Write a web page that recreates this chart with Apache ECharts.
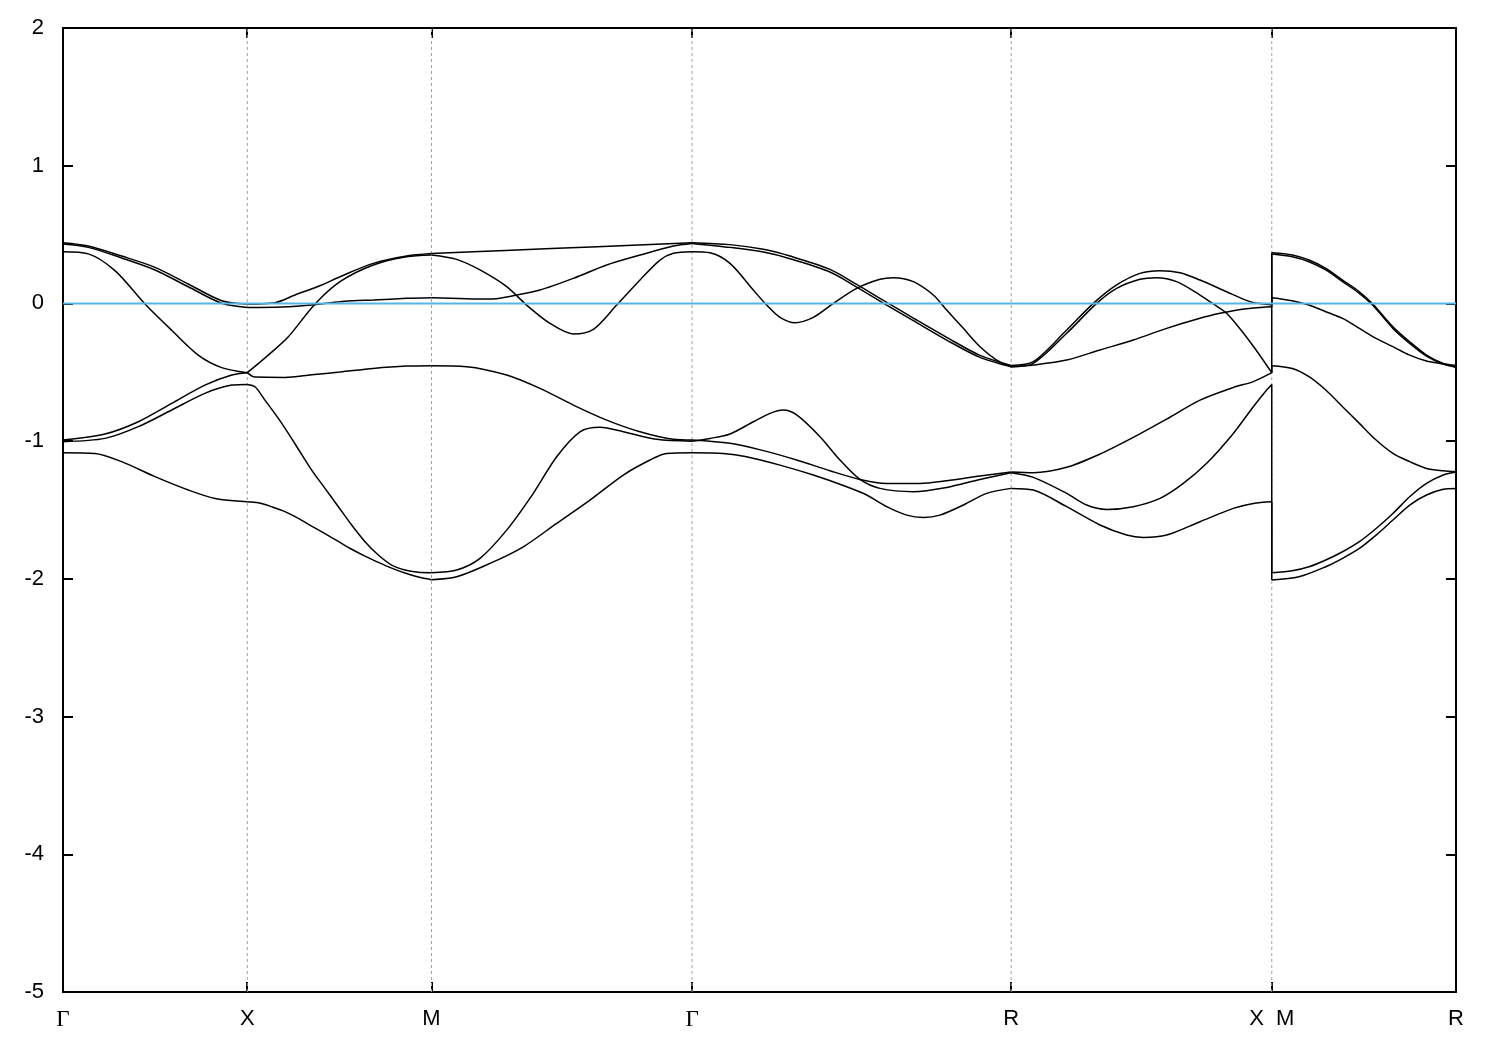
<!DOCTYPE html>
<html>
<head>
<meta charset="utf-8">
<script src="https://cdn.jsdelivr.net/npm/echarts@6/dist/echarts.min.js"></script>
<style>
  html, body { margin: 0; padding: 0; background: #ffffff; }
  #chart { width: 1500px; height: 1050px; }
</style>
</head>
<body>
<div id="chart"></div>
<script>
// High-symmetry points along the k-path
const kTicks = [0, 0.5, 1.0, 1.7071, 2.5731, 3.2802, 3.7802];
const kLabels = ['Γ', 'X', 'M', 'Γ', 'R', 'X  M', 'R'];
const energyTicks = [-5, -4, -3, -2, -1, 0, 1, 2];
const fermiEnergy = 0;

// Bands as [k, E] pairs
const band1 = [
  [0,0.441],[0.0688,0.417],[0.159,0.344],[0.2496,0.262],[0.340,0.141],[0.4306,0.020],[0.5,-0.004],
  [0.575,0.005],[0.6295,0.061],[0.702,0.134],[0.7517,0.194],[0.842,0.291],[0.9326,0.344],[1.0,0.362],
  [1.2,0.384],[1.45,0.412],[1.7071,0.441],
  [1.81,0.427],[1.9005,0.393],[1.9729,0.344],[2.0814,0.247],[2.1537,0.138],[2.2352,0.008],[2.3075,-0.106],[2.398,-0.246],[2.4885,-0.377],[2.5731,-0.450],
  [2.6332,-0.423],[2.7237,-0.193],[2.796,0.0],[2.8593,0.134],[2.9226,0.218],[2.9769,0.238],[3.0312,0.223],[3.0855,0.170],[3.1578,0.085],[3.2212,0.013],[3.2573,-0.004],[3.2802,-0.011],
  [3.2802,0.368],
  [3.3358,0.352],[3.3813,0.315],[3.4268,0.255],[3.4724,0.170],[3.5179,0.085],[3.5543,-0.004],[3.609,-0.169],[3.6545,-0.278],[3.7001,-0.375],[3.7456,-0.435],[3.7802,-0.450]
];
const band2 = [
  [0,0.431],[0.0688,0.407],[0.159,0.330],[0.2496,0.243],[0.340,0.121],[0.4306,0.001],[0.5,-0.029],
  [0.593,-0.026],[0.684,-0.009],[0.765,0.015],[0.842,0.025],[0.9326,0.037],[1.0,0.042],
  [1.1587,0.032],[1.2311,0.061],[1.2944,0.097],[1.3849,0.182],[1.4754,0.279],[1.5658,0.351],[1.6563,0.417],[1.7071,0.436],
  [1.81,0.407],[1.9005,0.373],[1.9729,0.325],[2.0814,0.228],[2.1537,0.119],[2.2352,-0.012],[2.3075,-0.125],[2.398,-0.266],[2.4885,-0.392],[2.5731,-0.460],
  [2.6332,-0.447],[2.7237,-0.411],[2.8141,-0.338],[2.9045,-0.266],[2.995,-0.181],[3.0855,-0.108],[3.1398,-0.072],[3.1759,-0.053],[3.2302,-0.033],[3.2802,-0.024],
  [3.2802,0.359],
  [3.3358,0.339],[3.3813,0.303],[3.4268,0.243],[3.4724,0.158],[3.5179,0.073],[3.5543,-0.013],[3.609,-0.181],[3.6545,-0.290],[3.7001,-0.382],[3.7456,-0.440],[3.7802,-0.460]
];
const band3 = [
  [0,0.376],[0.0688,0.360],[0.141,0.238],[0.2225,-0.004],[0.295,-0.195],[0.367,-0.375],[0.4306,-0.466],[0.5,-0.503],
  [0.557,-0.375],[0.6115,-0.242],[0.684,-0.004],[0.7517,0.158],[0.842,0.279],[0.9326,0.339],[1.0,0.352],
  [1.0683,0.320],[1.1316,0.243],[1.204,0.122],[1.2582,-0.012],[1.3216,-0.145],[1.3849,-0.222],[1.4392,-0.188],[1.5025,-0.012],[1.5658,0.170],[1.62,0.315],[1.6563,0.364],[1.7071,0.376],
  [1.7557,0.368],[1.81,0.291],[1.8734,0.097],[1.9096,-0.012],[1.9457,-0.101],[1.9864,-0.140],[2.0362,-0.101],[2.0904,0.0],[2.1537,0.109],[2.2171,0.175],[2.2533,0.187],[2.3075,0.158],[2.3618,0.061],[2.398,-0.048],[2.4432,-0.181],[2.4885,-0.314],[2.5337,-0.411],[2.5731,-0.460],
  [2.6332,-0.435],[2.7237,-0.217],[2.805,0.0],[2.8593,0.109],[2.9226,0.175],[2.9678,0.187],[3.0221,0.158],[3.0855,0.061],[3.1217,-0.004],[3.1578,-0.072],[3.2212,-0.278],[3.2802,-0.503],
  [3.2802,0.042],
  [3.3358,0.020],[3.3813,-0.012],[3.4268,-0.060],[3.4724,-0.108],[3.5179,-0.181],[3.5634,-0.254],[3.609,-0.314],[3.6545,-0.375],[3.7001,-0.418],[3.7456,-0.440],[3.7802,-0.465]
];
const band4 = [
  [0,-0.992],[0.114,-0.948],[0.2044,-0.859],[0.295,-0.726],[0.385,-0.593],[0.458,-0.520],[0.5,-0.503],
  [0.521,-0.535],[0.6025,-0.537],[0.6748,-0.518],[0.7517,-0.498],[0.842,-0.472],[0.9326,-0.455],[1.0,-0.452],
  [1.0955,-0.459],[1.204,-0.520],[1.2944,-0.617],[1.3849,-0.738],[1.4754,-0.847],[1.5658,-0.932],[1.6563,-0.987],[1.7071,-0.992],
  [1.81,-1.016],[1.9005,-1.069],[1.991,-1.137],[2.0814,-1.215],[2.1628,-1.278],[2.2352,-1.307],[2.3256,-1.307],[2.398,-1.287],[2.4885,-1.253],[2.5731,-1.224],
  [2.6332,-1.229],[2.7237,-1.190],[2.8141,-1.094],[2.9045,-0.973],[2.995,-0.840],[3.0855,-0.702],[3.1759,-0.610],[3.2302,-0.568],[3.2802,-0.503],
  [3.2802,-0.452],
  [3.3358,-0.472],[3.3813,-0.532],[3.4268,-0.629],[3.4724,-0.750],[3.5179,-0.871],[3.5634,-0.992],[3.609,-1.089],[3.6545,-1.149],[3.7001,-1.198],[3.7456,-1.215],[3.7802,-1.222]
];
const band5 = [
  [0,-1.004],[0.114,-0.980],[0.2044,-0.895],[0.295,-0.774],[0.385,-0.653],[0.458,-0.593],[0.5,-0.588],
  [0.521,-0.605],[0.548,-0.702],[0.5844,-0.835],[0.6115,-0.944],[0.6431,-1.077],[0.6748,-1.210],[0.711,-1.343],[0.7472,-1.476],[0.7833,-1.609],[0.8195,-1.730],[0.8557,-1.827],[0.8919,-1.900],[0.928,-1.936],[0.9642,-1.952],[1.0,-1.955],
  [1.0683,-1.936],[1.1316,-1.851],[1.204,-1.646],[1.2763,-1.379],[1.3397,-1.113],[1.403,-0.932],[1.4573,-0.900],[1.5206,-0.932],[1.611,-0.987],[1.7071,-1.0],
  [1.7557,-0.980],[1.81,-0.948],[1.8734,-0.859],[1.9186,-0.798],[1.9548,-0.774],[1.991,-0.810],[2.0543,-0.968],[2.1085,-1.137],[2.1628,-1.278],[2.2171,-1.343],[2.3075,-1.367],[2.398,-1.336],[2.4885,-1.278],[2.5731,-1.229],
  [2.6332,-1.263],[2.7237,-1.379],[2.7779,-1.464],[2.8322,-1.496],[2.9045,-1.476],[2.9769,-1.416],[3.0402,-1.307],[3.1036,-1.161],[3.1759,-0.944],[3.2302,-0.750],[3.2664,-0.629],[3.2802,-0.588],
  [3.2802,-1.955],
  [3.3358,-1.941],[3.3813,-1.912],[3.4268,-1.863],[3.4724,-1.803],[3.5179,-1.730],[3.5634,-1.634],[3.609,-1.525],[3.6545,-1.404],[3.7001,-1.307],[3.7456,-1.246],[3.7802,-1.224]
];
const band6 = [
  [0,-1.084],[0.0868,-1.089],[0.159,-1.149],[0.2496,-1.258],[0.340,-1.355],[0.4125,-1.416],[0.5,-1.440],
  [0.530,-1.447],[0.5663,-1.476],[0.6025,-1.512],[0.6386,-1.561],[0.6748,-1.617],[0.711,-1.672],[0.7472,-1.728],[0.7833,-1.785],[0.8195,-1.835],[0.8557,-1.880],[0.8919,-1.922],[0.928,-1.958],[0.9642,-1.987],[1.0,-2.006],
  [1.0683,-1.985],[1.1587,-1.888],[1.2492,-1.767],[1.3397,-1.597],[1.4301,-1.428],[1.5206,-1.246],[1.593,-1.137],[1.638,-1.089],[1.7071,-1.084],
  [1.792,-1.089],[1.8553,-1.113],[1.9457,-1.174],[2.0362,-1.246],[2.1266,-1.331],[2.1809,-1.391],[2.2352,-1.476],[2.2895,-1.537],[2.3347,-1.554],[2.3799,-1.537],[2.4432,-1.464],[2.5065,-1.379],[2.5731,-1.343],
  [2.6332,-1.355],[2.7237,-1.476],[2.8141,-1.609],[2.8865,-1.682],[2.9317,-1.699],[2.995,-1.682],[3.0855,-1.585],[3.1759,-1.488],[3.2302,-1.452],[3.2802,-1.440],
  [3.2802,-2.009],
  [3.354,-1.985],[3.4268,-1.912],[3.4724,-1.851],[3.5179,-1.779],[3.5634,-1.682],[3.609,-1.573],[3.6545,-1.464],[3.7001,-1.391],[3.7456,-1.350],[3.7802,-1.343]
];
const bands = [band1, band2, band3, band4, band5, band6];

function isTick(k) { return kTicks.some(t => Math.abs(t - k) < 1e-9); }
function splitPieces(band) {
  const out = [];
  let cur = [band[0]];
  for (let i = 1; i < band.length; i++) {
    cur.push(band[i]);
    if (isTick(band[i][0])) { out.push(cur); cur = [band[i]]; }
  }
  if (cur.length > 1) out.push(cur);
  return out;
}

const series = [];
// dashed vertical guide lines at interior high-symmetry points
kTicks.slice(1, -1).forEach(k => {
  series.push({
    type: 'line', data: [[k, energyTicks[0]], [k, energyTicks[energyTicks.length - 1]]],
    symbol: 'none', silent: true, z: 1,
    lineStyle: { color: '#a0a0a0', width: 1, type: [3, 3] }
  });
});
bands.forEach(b => {
  splitPieces(b).forEach(p => {
    series.push({
      type: 'line', data: p, symbol: 'none', showSymbol: false, silent: true,
      smooth: p.length > 2 ? 0.3 : false, z: 2,
      lineStyle: { color: '#000000', width: 1.5 }
    });
  });
});
// Fermi level
series.push({
  type: 'line', data: [[kTicks[0], fermiEnergy], [kTicks[kTicks.length - 1], fermiEnergy]],
  symbol: 'none', silent: true, z: 3,
  lineStyle: { color: '#56B4E9', width: 2 }
});

const labelFont = 'Liberation Sans, Arial, sans-serif';
function xLabel(v) {
  let idx = kTicks.findIndex(t => Math.abs(t - v) < 1e-6);
  if (idx < 0) return '';
  const s = kLabels[idx];
  return s === 'Γ' ? '{g|Γ}' : s;
}

const axisLineStyle = { color: '#000', width: 2 };
const option = {
  backgroundColor: '#ffffff',
  animation: false,
  grid: { left: 63, right: 44, top: 28, bottom: 58, containLabel: false },
  xAxis: [
    {
      type: 'value', min: kTicks[0], max: kTicks[kTicks.length - 1], position: 'bottom',
      axisLine: { show: true, onZero: false, lineStyle: axisLineStyle },
      axisTick: { show: true, inside: true, length: 10, customValues: kTicks, lineStyle: axisLineStyle },
      axisLabel: {
        show: true, customValues: kTicks, formatter: xLabel, margin: 16,
        fontSize: 22, color: '#000', fontFamily: labelFont,
        showMinLabel: true, showMaxLabel: true,
        rich: { g: { fontFamily: 'Liberation Serif, DejaVu Serif, serif', fontSize: 23, color: '#000' } }
      },
      splitLine: { show: false }
    },
    {
      type: 'value', min: kTicks[0], max: kTicks[kTicks.length - 1], position: 'top',
      axisLine: { show: true, onZero: false, lineStyle: axisLineStyle },
      axisTick: { show: true, inside: true, length: 10, customValues: kTicks, lineStyle: axisLineStyle },
      axisLabel: { show: false },
      splitLine: { show: false }
    }
  ],
  yAxis: [
    {
      type: 'value', min: energyTicks[0], max: energyTicks[energyTicks.length - 1], interval: 1, position: 'left',
      axisLine: { show: true, onZero: false, lineStyle: axisLineStyle },
      axisTick: { show: true, inside: true, length: 10, lineStyle: axisLineStyle },
      axisLabel: { show: true, margin: 19, fontSize: 22, color: '#000', fontFamily: labelFont },
      splitLine: { show: false }
    },
    {
      type: 'value', min: energyTicks[0], max: energyTicks[energyTicks.length - 1], interval: 1, position: 'right',
      axisLine: { show: true, onZero: false, lineStyle: axisLineStyle },
      axisTick: { show: true, inside: true, length: 10, lineStyle: axisLineStyle },
      axisLabel: { show: false },
      splitLine: { show: false }
    }
  ],
  series: series
};

const chart = echarts.init(document.getElementById('chart'), null, { renderer: 'canvas' });
chart.setOption(option);
</script>
</body>
</html>
